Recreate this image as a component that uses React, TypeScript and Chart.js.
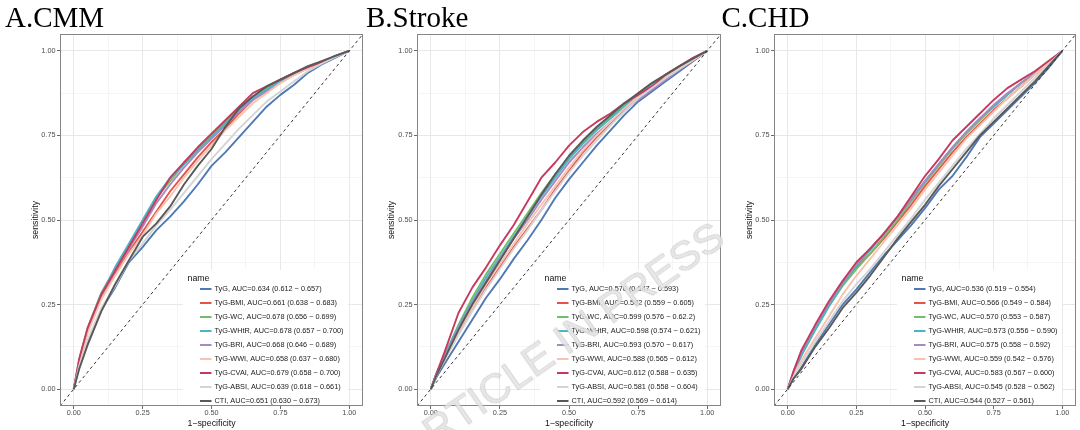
import React, { useEffect, useRef } from 'react';
import { Chart, registerables } from 'chart.js';

Chart.register(...registerables);

// ---------- data ----------
const FPR = [0, 0.02, 0.05, 0.1, 0.15, 0.2, 0.25, 0.3, 0.35, 0.4, 0.45, 0.5, 0.55, 0.6, 0.65, 0.7, 0.75, 0.8, 0.85, 0.9, 0.95, 1];
const DIAGONAL = [-0.05, 1.05];
const SERIES_NAMES = ['TyG', 'TyG-BMI', 'TyG-WC', 'TyG-WHtR', 'TyG-BRI', 'TyG-WWI', 'TyG-CVAI', 'TyG-ABSI', 'CTI'];
const COLORS = ['#4E79B4', '#E5534B', '#72BF6A', '#4AB3C5', '#A68BC2', '#F8C3AE', '#C73A60', '#D4D4D4', '#595959'];
const AXIS_TICKS = [0, 0.125, 0.25, 0.375, 0.5, 0.625, 0.75, 0.875, 1];
const TICK_LABELS = ['0.00', '', '0.25', '', '0.50', '', '0.75', '', '1.00'];

// A. CMM
const CMM_TYG = [0, 0.07, 0.14, 0.235, 0.3, 0.375, 0.42, 0.47, 0.51, 0.555, 0.605, 0.66, 0.7, 0.745, 0.79, 0.835, 0.87, 0.9, 0.935, 0.96, 0.98, 1];
const CMM_BMI = [0, 0.08, 0.17, 0.27, 0.34, 0.405, 0.465, 0.525, 0.585, 0.635, 0.685, 0.73, 0.77, 0.815, 0.855, 0.885, 0.91, 0.93, 0.95, 0.965, 0.985, 1];
const CMM_WC = [0, 0.09, 0.18, 0.285, 0.355, 0.425, 0.495, 0.565, 0.615, 0.665, 0.71, 0.75, 0.79, 0.83, 0.865, 0.89, 0.915, 0.935, 0.95, 0.965, 0.985, 1];
const CMM_WHTR = [0, 0.085, 0.175, 0.28, 0.36, 0.43, 0.5, 0.57, 0.625, 0.665, 0.705, 0.745, 0.785, 0.825, 0.86, 0.885, 0.91, 0.93, 0.95, 0.967, 0.985, 1];
const CMM_BRI = [0, 0.08, 0.17, 0.275, 0.35, 0.415, 0.48, 0.55, 0.605, 0.655, 0.7, 0.74, 0.78, 0.82, 0.855, 0.88, 0.905, 0.93, 0.948, 0.965, 0.984, 1];
const CMM_WWI = [0, 0.08, 0.165, 0.265, 0.335, 0.4, 0.455, 0.52, 0.57, 0.625, 0.675, 0.72, 0.765, 0.805, 0.845, 0.875, 0.905, 0.928, 0.948, 0.965, 0.985, 1];
const CMM_CVAI = [0, 0.09, 0.18, 0.28, 0.35, 0.42, 0.49, 0.56, 0.625, 0.67, 0.715, 0.755, 0.795, 0.835, 0.875, 0.895, 0.915, 0.935, 0.952, 0.967, 0.985, 1];
const CMM_ABSI = [0, 0.07, 0.145, 0.24, 0.305, 0.38, 0.43, 0.485, 0.53, 0.58, 0.63, 0.68, 0.725, 0.77, 0.81, 0.85, 0.88, 0.91, 0.94, 0.962, 0.982, 1];
const CMM_CTI = [0, 0.06, 0.13, 0.23, 0.31, 0.38, 0.45, 0.49, 0.54, 0.605, 0.66, 0.71, 0.775, 0.83, 0.865, 0.895, 0.915, 0.935, 0.955, 0.97, 0.985, 1];
const CMM_LEGEND = [
  'TyG, AUC=0.634 (0.612 ~ 0.657)',
  'TyG-BMI, AUC=0.661 (0.638 ~ 0.683)',
  'TyG-WC, AUC=0.678 (0.656 ~ 0.699)',
  'TyG-WHtR, AUC=0.678 (0.657 ~ 0.700)',
  'TyG-BRI, AUC=0.668 (0.646 ~ 0.689)',
  'TyG-WWI, AUC=0.658 (0.637 ~ 0.680)',
  'TyG-CVAI, AUC=0.679 (0.658 ~ 0.700)',
  'TyG-ABSI, AUC=0.639 (0.618 ~ 0.661)',
  'CTI, AUC=0.651 (0.630 ~ 0.673)',
];

// B. Stroke
const STROKE_TYG = [0, 0.035, 0.075, 0.14, 0.205, 0.27, 0.325, 0.385, 0.44, 0.5, 0.565, 0.62, 0.67, 0.72, 0.765, 0.81, 0.85, 0.88, 0.91, 0.94, 0.97, 1];
const STROKE_BMI = [0, 0.04, 0.09, 0.165, 0.235, 0.3, 0.36, 0.42, 0.475, 0.53, 0.59, 0.645, 0.7, 0.745, 0.785, 0.825, 0.86, 0.89, 0.92, 0.945, 0.972, 1];
const STROKE_WC = [0, 0.045, 0.1, 0.19, 0.27, 0.34, 0.4, 0.46, 0.52, 0.58, 0.635, 0.685, 0.73, 0.77, 0.805, 0.84, 0.875, 0.905, 0.93, 0.955, 0.978, 1];
const STROKE_WHTR = [0, 0.045, 0.1, 0.185, 0.26, 0.33, 0.39, 0.45, 0.51, 0.57, 0.625, 0.68, 0.725, 0.765, 0.8, 0.835, 0.87, 0.9, 0.928, 0.953, 0.977, 1];
const STROKE_BRI = [0, 0.045, 0.095, 0.18, 0.255, 0.32, 0.385, 0.445, 0.5, 0.56, 0.615, 0.67, 0.715, 0.755, 0.79, 0.825, 0.855, 0.885, 0.915, 0.945, 0.975, 1];
const STROKE_WWI = [0, 0.04, 0.09, 0.17, 0.24, 0.31, 0.37, 0.43, 0.49, 0.545, 0.6, 0.655, 0.705, 0.75, 0.79, 0.83, 0.865, 0.895, 0.925, 0.95, 0.975, 1];
const STROKE_CVAI = [0, 0.045, 0.11, 0.225, 0.3, 0.36, 0.425, 0.485, 0.555, 0.625, 0.67, 0.72, 0.76, 0.79, 0.815, 0.845, 0.87, 0.895, 0.93, 0.955, 0.98, 1];
const STROKE_ABSI = [0, 0.04, 0.085, 0.16, 0.23, 0.295, 0.355, 0.415, 0.47, 0.53, 0.585, 0.64, 0.69, 0.735, 0.78, 0.82, 0.86, 0.89, 0.92, 0.947, 0.973, 1];
const STROKE_CTI = [0, 0.04, 0.09, 0.175, 0.25, 0.315, 0.38, 0.445, 0.51, 0.575, 0.635, 0.69, 0.735, 0.775, 0.81, 0.845, 0.875, 0.905, 0.93, 0.955, 0.978, 1];
const STROKE_LEGEND = [
  'TyG, AUC=0.570 (0.547 ~ 0.593)',
  'TyG-BMI, AUC=0.582 (0.559 ~ 0.605)',
  'TyG-WC, AUC=0.599 (0.576 ~ 0.62.2)',
  'TyG-WHtR, AUC=0.598 (0.574 ~ 0.621)',
  'TyG-BRI, AUC=0.593 (0.570 ~ 0.617)',
  'TyG-WWI, AUC=0.588 (0.565 ~ 0.612)',
  'TyG-CVAI, AUC=0.612 (0.588 ~ 0.635)',
  'TyG-ABSI, AUC=0.581 (0.558 ~ 0.604)',
  'CTI, AUC=0.592 (0.569 ~ 0.614)',
];

// C. CHD
const CHD_TYG = [0, 0.03, 0.065, 0.13, 0.19, 0.25, 0.295, 0.345, 0.395, 0.44, 0.485, 0.535, 0.59, 0.63, 0.685, 0.745, 0.785, 0.825, 0.865, 0.905, 0.95, 1];
const CHD_BMI = [0, 0.045, 0.105, 0.18, 0.25, 0.31, 0.36, 0.4, 0.445, 0.495, 0.545, 0.6, 0.65, 0.7, 0.745, 0.785, 0.825, 0.86, 0.895, 0.93, 0.965, 1];
const CHD_WC = [0, 0.045, 0.1, 0.175, 0.245, 0.305, 0.355, 0.4, 0.45, 0.5, 0.555, 0.61, 0.66, 0.71, 0.755, 0.795, 0.835, 0.87, 0.905, 0.935, 0.967, 1];
const CHD_WHTR = [0, 0.045, 0.1, 0.175, 0.245, 0.31, 0.365, 0.41, 0.46, 0.51, 0.565, 0.615, 0.665, 0.715, 0.76, 0.8, 0.835, 0.87, 0.905, 0.935, 0.967, 1];
const CHD_BRI = [0, 0.05, 0.11, 0.185, 0.255, 0.315, 0.37, 0.415, 0.46, 0.51, 0.56, 0.615, 0.665, 0.715, 0.76, 0.8, 0.84, 0.875, 0.905, 0.935, 0.967, 1];
const CHD_WWI = [0, 0.04, 0.085, 0.15, 0.215, 0.28, 0.335, 0.385, 0.435, 0.485, 0.535, 0.59, 0.64, 0.69, 0.74, 0.78, 0.82, 0.86, 0.895, 0.93, 0.965, 1];
const CHD_CVAI = [0, 0.05, 0.115, 0.19, 0.26, 0.32, 0.375, 0.415, 0.46, 0.51, 0.57, 0.63, 0.68, 0.735, 0.775, 0.815, 0.855, 0.89, 0.915, 0.94, 0.97, 1];
const CHD_ABSI = [0, 0.035, 0.075, 0.14, 0.2, 0.26, 0.31, 0.355, 0.405, 0.455, 0.505, 0.56, 0.61, 0.66, 0.71, 0.755, 0.8, 0.84, 0.88, 0.92, 0.96, 1];
const CHD_CTI = [0, 0.03, 0.06, 0.125, 0.18, 0.24, 0.285, 0.335, 0.39, 0.445, 0.495, 0.545, 0.6, 0.65, 0.7, 0.75, 0.79, 0.83, 0.87, 0.91, 0.955, 1];
const CHD_LEGEND = [
  'TyG, AUC=0.536 (0.519 ~ 0.554)',
  'TyG-BMI, AUC=0.566 (0.549 ~ 0.584)',
  'TyG-WC, AUC=0.570 (0.553 ~ 0.587)',
  'TyG-WHtR, AUC=0.573 (0.556 ~ 0.590)',
  'TyG-BRI, AUC=0.575 (0.558 ~ 0.592)',
  'TyG-WWI, AUC=0.559 (0.542 ~ 0.576)',
  'TyG-CVAI, AUC=0.583 (0.567 ~ 0.600)',
  'TyG-ABSI, AUC=0.545 (0.528 ~ 0.562)',
  'CTI, AUC=0.544 (0.527 ~ 0.561)',
];

// ---------- layout / style ----------
const SANS = '"Liberation Sans", Arial, Helvetica, sans-serif';
const SERIF = '"Liberation Serif", "Times New Roman", Times, serif';

type Panel = {
  title: string;
  titleLeft: number;
  left: number;
  width: number;
  padL: number;
  axisW: number;
  padR: number;
  series: number[][];
  legend: string[];
};

const PANELS: Panel[] = [
  {
    title: 'A.CMM', titleLeft: 5, left: 0, width: 366, padL: 30, axisW: 30, padR: 3,
    series: [CMM_TYG, CMM_BMI, CMM_WC, CMM_WHTR, CMM_BRI, CMM_WWI, CMM_CVAI, CMM_ABSI, CMM_CTI],
    legend: CMM_LEGEND,
  },
  {
    title: 'B.Stroke', titleLeft: 366, left: 366, width: 357, padL: 20.5, axisW: 30.5, padR: 2,
    series: [STROKE_TYG, STROKE_BMI, STROKE_WC, STROKE_WHTR, STROKE_BRI, STROKE_WWI, STROKE_CVAI, STROKE_ABSI, STROKE_CTI],
    legend: STROKE_LEGEND,
  },
  {
    title: 'C.CHD', titleLeft: 721.5, left: 723, width: 357, padL: 21, axisW: 30, padR: 4,
    series: [CHD_TYG, CHD_BMI, CHD_WC, CHD_WHTR, CHD_BRI, CHD_WWI, CHD_CVAI, CHD_ABSI, CHD_CTI],
    legend: CHD_LEGEND,
  },
];

const LEG = {
  boxX: 123, boxY: 236, boxW: 165,
  nameX: 127.5, nameY: 244.3,
  keyX0: 140, keyX1: 151.5, textX: 154.5,
  firstY: 255, stepY: 14,
};

function legendPlugin(labels: string[]) {
  return {
    id: 'rocLegend',
    afterDraw(chart: any) {
      const { ctx, chartArea: a } = chart;
      ctx.save();
      ctx.fillStyle = '#ffffff';
      ctx.fillRect(a.left + LEG.boxX, a.top + LEG.boxY, LEG.boxW, a.bottom - a.top - LEG.boxY);
      ctx.textBaseline = 'middle';
      ctx.textAlign = 'left';
      ctx.fillStyle = '#111';
      ctx.font = `8.8px ${SANS}`;
      ctx.fillText('name', a.left + LEG.nameX, a.top + LEG.nameY);
      ctx.font = `7.3px ${SANS}`;
      labels.forEach((txt, i) => {
        const y = a.top + LEG.firstY + i * LEG.stepY;
        ctx.strokeStyle = COLORS[i];
        ctx.lineWidth = 2;
        ctx.beginPath();
        ctx.moveTo(a.left + LEG.keyX0, y);
        ctx.lineTo(a.left + LEG.keyX1, y);
        ctx.stroke();
        ctx.fillStyle = '#1a1a1a';
        ctx.fillText(txt, a.left + LEG.textX, y);
      });
      ctx.restore();
    },
  };
}

const borderPlugin = {
  id: 'panelBorder',
  afterDraw(chart: any) {
    const { ctx, chartArea: a } = chart;
    ctx.save();
    ctx.strokeStyle = '#858585';
    ctx.lineWidth = 1;
    ctx.strokeRect(Math.round(a.left) + 0.5, Math.round(a.top) + 0.5, Math.round(a.right - a.left) - 1, Math.round(a.bottom - a.top) - 1);
    ctx.restore();
  },
};

function axisCommon() {
  return {
    type: 'linear' as const,
    min: -0.05,
    max: 1.05,
    afterBuildTicks: (s: any) => {
      s.ticks = AXIS_TICKS.map((v) => ({ value: v }));
    },
    ticks: {
      autoSkip: false,
      maxRotation: 0,
      color: '#4D4D4D',
      font: { family: SANS, size: 7.3 },
      callback: (_v: any, i: number) => TICK_LABELS[i],
    },
    grid: {
      color: (c: any) => (c.index % 2 === 0 ? '#E8E8E8' : '#F0F0F0'),
      lineWidth: (c: any) => (c.index % 2 === 0 ? 1 : 0.7),
      drawTicks: true,
      tickLength: 3,
      tickWidth: 0.8,
      tickColor: (c: any) => (c.index % 2 === 0 ? '#444444' : 'rgba(0,0,0,0)'),
    },
    border: { display: false },
  };
}

function makeConfig(panel: Panel): any {
  const datasets: any[] = panel.series.map((ys, i) => ({
    label: SERIES_NAMES[i],
    data: FPR.map((x, j) => ({ x, y: ys[j] })),
    borderColor: COLORS[i],
    backgroundColor: COLORS[i],
    borderWidth: 1.9,
    pointRadius: 0,
    tension: 0,
    fill: false,
    borderJoinStyle: 'round',
    order: SERIES_NAMES.length - i + 1,
  }));
  datasets.push({
    label: 'reference',
    data: DIAGONAL.map((v) => ({ x: v, y: v })),
    borderColor: '#333333',
    borderDash: [3, 3],
    borderWidth: 1,
    pointRadius: 0,
    fill: false,
    order: 0,
  });
  const xAxis: any = axisCommon();
  xAxis.ticks.padding = 0;
  xAxis.afterFit = (s: any) => {
    s.height = 24;
  };
  xAxis.title = {
    display: true,
    text: '1\u2212specificity',
    color: '#111',
    font: { family: SANS, size: 8.8 },
    padding: { top: 0, bottom: 1 },
  };
  const yAxis: any = axisCommon();
  yAxis.ticks.padding = 1.5;
  yAxis.afterFit = (s: any) => {
    s.width = panel.axisW;
  };
  yAxis.title = {
    display: true,
    text: 'sensitivity',
    color: '#111',
    font: { family: SANS, size: 8.8 },
    padding: { top: 0, bottom: 0 },
  };
  return {
    type: 'line',
    data: { datasets },
    options: {
      animation: false,
      responsive: true,
      maintainAspectRatio: false,
      devicePixelRatio: 1,
      parsing: false,
      normalized: true,
      layout: { padding: { left: panel.padL, right: panel.padR, top: 34, bottom: 0 } },
      scales: { x: xAxis, y: yAxis },
      plugins: {
        legend: { display: false },
        tooltip: { enabled: false },
        title: { display: false },
      },
      events: [],
    },
    plugins: [legendPlugin(panel.legend), borderPlugin],
  };
}

function RocPanel({ panel }: { panel: Panel }) {
  const ref = useRef<HTMLCanvasElement | null>(null);
  useEffect(() => {
    if (!ref.current) return;
    const chart = new Chart(ref.current, makeConfig(panel));
    return () => chart.destroy();
  }, [panel]);
  return (
    <div style={{ position: 'absolute', left: panel.left, top: 0, width: panel.width, height: 430 }}>
      <canvas ref={ref} />
    </div>
  );
}

export default function App() {
  return (
    <div style={{ position: 'absolute', left: 0, top: 0, width: 1080, height: 430, background: '#fff', overflow: 'hidden' }}>
      {PANELS.map((p) => (
        <RocPanel key={p.title} panel={p} />
      ))}
      {PANELS.map((p) => (
        <div
          key={p.title + '-t'}
          style={{
            position: 'absolute',
            left: p.titleLeft,
            top: 2.7,
            fontFamily: SERIF,
            fontSize: 29,
            lineHeight: '29px',
            color: '#000',
            whiteSpace: 'nowrap',
          }}
        >
          {p.title}
        </div>
      ))}
      <div
        style={{
          position: 'absolute',
          left: 562 - 300,
          top: 342 - 27,
          width: 600,
          height: 54,
          lineHeight: '54px',
          textAlign: 'center',
          fontFamily: SANS,
          fontSize: 42,
          color: 'rgba(228,228,228,0.88)',
          WebkitTextStroke: '0.6px rgba(190,190,190,0.8)',
          transform: 'rotate(-35deg)',
          whiteSpace: 'nowrap',
          pointerEvents: 'none',
        }}
      >
        ARTICLE IN PRESS
      </div>
    </div>
  );
}
